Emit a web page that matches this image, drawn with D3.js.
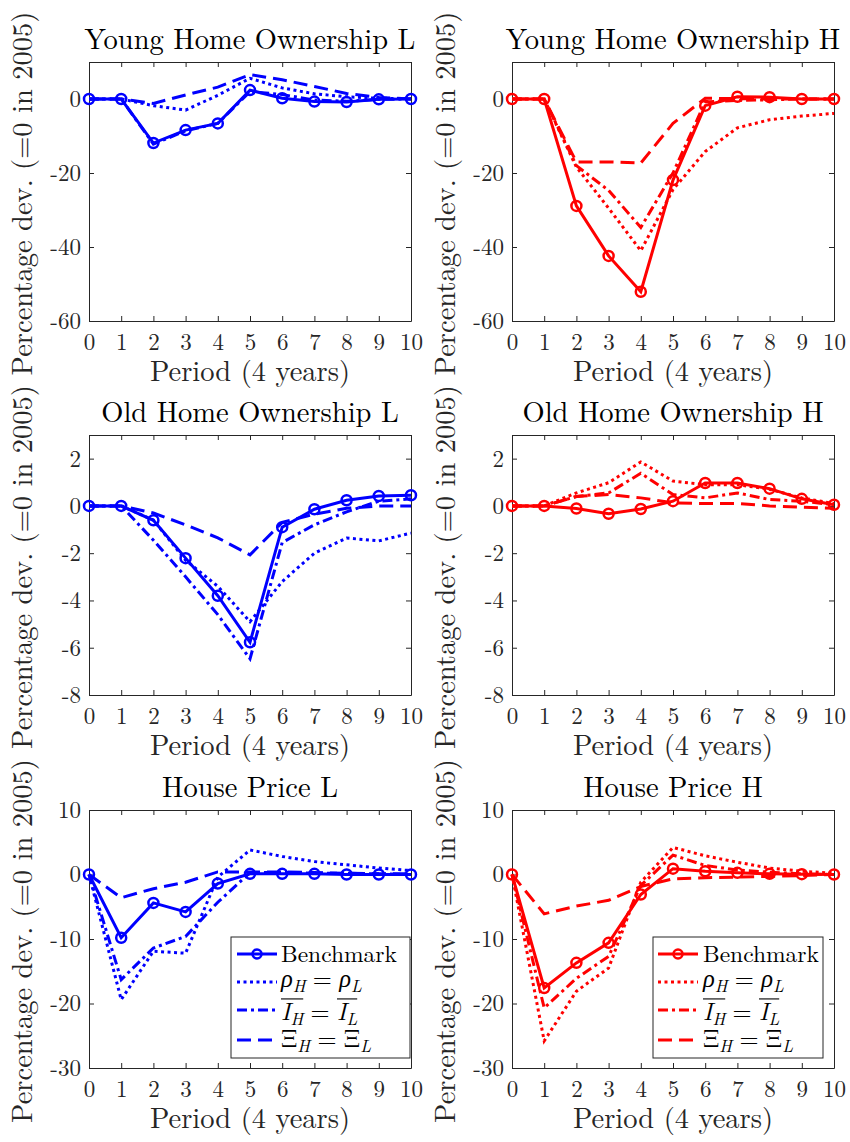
<!DOCTYPE html>
<html>
<head>
<meta charset="utf-8">
<script src="https://cdn.jsdelivr.net/npm/d3@7"></script>
<style>
  html, body { margin: 0; padding: 0; background: #fff; }
  svg { display: block; }
</style>
</head>
<body>
<svg id="fig" width="850" height="1142"></svg>
<script>
// ---- data: percentage deviation from 2005, by period (4 years) ----
const periods = [0, 1, 2, 3, 4, 5, 6, 7, 8, 9, 10];
const seriesNames = ["Benchmark", "rho", "income", "xi"];

const youngL_bench = [0, 0, -11.9, -8.4, -6.6, 2.4, 0.2, -0.7, -0.8, -0.1, 0];
const youngL_rho   = [0, 0, -1.8, -3.0, 1.0, 5.6, 3.0, 1.4, 0.6, 0.2, 0.1];
const youngL_inc   = [0, 0, -12.2, -8.6, -6.6, 2.0, 1.2, -0.3, -0.6, -0.1, 0];
const youngL_xi    = [0, 0, -1.2, 1.1, 3.2, 6.6, 5.2, 3.4, 1.5, 0.4, 0];

const youngH_bench = [0, 0, -28.9, -42.4, -52.1, -21.9, -1.8, 0.6, 0.5, 0, 0];
const youngH_rho   = [0, 0, -18.4, -29.5, -41.0, -24.5, -14.2, -7.8, -5.6, -4.6, -3.9];
const youngH_inc   = [0, 0, -18.0, -24.7, -34.7, -20.0, -0.8, -0.4, -0.2, 0, 0];
const youngH_xi    = [0, 0, -17.0, -17.0, -17.3, -6.6, 0.2, 0.1, 0, 0, 0];

const oldL_bench = [0, 0, -0.61, -2.21, -3.8, -5.77, -0.9, -0.14, 0.24, 0.42, 0.45];
const oldL_rho   = [0, 0, -0.6, -2.3, -3.4, -4.9, -3.2, -2.0, -1.36, -1.48, -1.15];
const oldL_inc   = [0, 0, -1.45, -3.0, -4.6, -6.47, -1.55, -0.8, -0.25, 0.2, 0.3];
const oldL_xi    = [0, 0, -0.3, -0.8, -1.35, -2.07, -0.7, -0.35, -0.1, 0.0, 0.0];

const oldH_bench = [0, 0, -0.11, -0.33, -0.13, 0.2, 0.97, 0.97, 0.73, 0.3, 0.05];
const oldH_rho   = [0, 0, 0.55, 0.98, 1.86, 1.05, 0.9, 0.9, 0.7, 0.34, 0.1];
const oldH_inc   = [0, 0, 0.4, 0.55, 1.38, 0.48, 0.34, 0.55, 0.27, 0.2, 0.05];
const oldH_xi    = [0, 0, 0.4, 0.48, 0.34, 0.13, 0.1, 0.1, 0.0, -0.05, -0.1];

const priceL_bench = [0, -9.8, -4.4, -5.8, -1.4, 0.1, 0.1, 0.1, 0, 0, 0];
const priceL_rho   = [0, -19.4, -11.9, -12.2, -0.4, 3.8, 2.8, 2.0, 1.5, 1.0, 0.6];
const priceL_inc   = [0, -16.3, -11.4, -9.6, -4.3, 0.3, 0.3, 0.2, 0.2, 0.1, 0];
const priceL_xi    = [0, -3.6, -2.2, -1.2, 0.4, 0.4, 0.4, 0.3, 0.2, 0.1, 0.1];

const priceH_bench = [0, -17.6, -13.7, -10.6, -3.1, 0.9, 0.5, 0.26, 0.1, 0.05, 0];
const priceH_rho   = [0, -25.8, -18.1, -14.5, -1.2, 4.2, 2.9, 1.9, 1.0, 0.5, 0.2];
const priceH_inc   = [0, -20.7, -16.1, -12.7, -1.7, 3.0, 1.4, 0.7, 0.36, 0.1, 0];
const priceH_xi    = [0, -6.1, -4.9, -4.0, -1.85, -0.67, -0.5, -0.4, -0.3, -0.15, 0];

const titles = ["Young Home Ownership L", "Young Home Ownership H",
                "Old Home Ownership L", "Old Home Ownership H",
                "House Price L", "House Price H"];
const xTicks = [0, 1, 2, 3, 4, 5, 6, 7, 8, 9, 10];
const yTicksYoung = [-60, -40, -20, 0];
const yTicksOld = [-8, -6, -4, -2, 0, 2];
const yTicksPrice = [-30, -20, -10, 0, 10];
const yDomainYoung = [-60, 10];
const yDomainOld = [-8, 3];
const yDomainPrice = [-30, 10];
const xLabel = "Period (4 years)";
const yLabel = "Percentage dev. (=0 in 2005)";

// ---- layout and style ----
const FONT = "Latin Modern Roman";
const AX = "#262626";
const colX = [89, 512];
const axW = 322;
const rowY = [62, 435, 810];
const axH = [259, 260, 258];

const styles = {
  Benchmark: { dash: null, marker: true },
  rho: { dash: "3,3.5", marker: false },
  income: { dash: "10,4,3,4", marker: false },
  xi: { dash: "14,7", marker: false }
};

const panels = [
  { title: titles[0], color: "#0000ff", dom: yDomainYoung, ticks: yTicksYoung, data: [youngL_bench, youngL_rho, youngL_inc, youngL_xi] },
  { title: titles[1], color: "#ff0000", dom: yDomainYoung, ticks: yTicksYoung, data: [youngH_bench, youngH_rho, youngH_inc, youngH_xi] },
  { title: titles[2], color: "#0000ff", dom: yDomainOld, ticks: yTicksOld, data: [oldL_bench, oldL_rho, oldL_inc, oldL_xi] },
  { title: titles[3], color: "#ff0000", dom: yDomainOld, ticks: yTicksOld, data: [oldH_bench, oldH_rho, oldH_inc, oldH_xi] },
  { title: titles[4], color: "#0000ff", dom: yDomainPrice, ticks: yTicksPrice, data: [priceL_bench, priceL_rho, priceL_inc, priceL_xi], legend: { x: 231, w: 179, lineX: 237, textX: 281 } },
  { title: titles[5], color: "#ff0000", dom: yDomainPrice, ticks: yTicksPrice, data: [priceH_bench, priceH_rho, priceH_inc, priceH_xi], legend: { x: 653, w: 170, lineX: 658, textX: 703 } }
];

const svg = d3.select("#fig");

// writes a run of text pieces (italic / subscript / relation spacing) left to right;
// draws overlines over grouped pieces
function mathText(g, x, y, parts, size, color) {
  let cx = x;
  const overs = {};
  parts.forEach(p => {
    const fs = p.sub ? size * 0.7 : size;
    cx += (p.gl || 0) * size;
    const t = g.append("text")
      .attr("x", cx).attr("y", y + (p.sub ? size * 0.2 : 0))
      .attr("font-family", FONT).attr("font-size", fs)
      .attr("font-style", p.it ? "italic" : "normal")
      .attr("fill", color)
      .text(p.t);
    const w = t.node().getComputedTextLength();
    if (p.over !== undefined) {
      if (!overs[p.over]) overs[p.over] = [cx, cx + w];
      else overs[p.over][1] = cx + w;
    }
    cx += w + (p.gr || 0) * size;
  });
  Object.values(overs).forEach(([a, b]) => {
    g.append("line").attr("x1", a).attr("x2", b)
      .attr("y1", y - size * 0.86).attr("y2", y - size * 0.86)
      .attr("stroke", color).attr("stroke-width", 1.1);
  });
  return cx;
}

panels.forEach((p, i) => {
  const col = i % 2, row = Math.floor(i / 2);
  const x0 = colX[col], y0 = rowY[row], h = axH[row];
  const x = d3.scaleLinear().domain([0, 10]).range([x0, x0 + axW]);
  const y = d3.scaleLinear().domain(p.dom).range([y0 + h, y0]);
  const g = svg.append("g");

  // axes box with inward ticks on all four sides
  const axB = d3.axisBottom(x).tickValues(xTicks).tickSizeInner(-5).tickSizeOuter(0).tickPadding(13).tickFormat(d3.format("d"));
  const axT = d3.axisTop(x).tickValues(xTicks).tickSizeInner(-5).tickSizeOuter(0).tickFormat("");
  const axL = d3.axisLeft(y).tickValues(p.ticks).tickSizeInner(-5).tickSizeOuter(0).tickPadding(8).tickFormat(d => String(d));
  const axR = d3.axisRight(y).tickValues(p.ticks).tickSizeInner(-5).tickSizeOuter(0).tickFormat("");

  [[axB, `translate(0,${y0 + h})`], [axT, `translate(0,${y0})`],
   [axL, `translate(${x0},0)`], [axR, `translate(${x0 + axW},0)`]].forEach(([a, tr]) => {
    const ag = g.append("g").attr("transform", tr).call(a);
    ag.attr("font-family", FONT);
    ag.select(".domain").attr("stroke", AX).attr("stroke-width", 1);
    ag.selectAll(".tick line").attr("stroke", AX).attr("stroke-width", 1);
    ag.selectAll(".tick text").attr("font-family", FONT).attr("font-size", 23).attr("fill", AX);
  });

  // series lines, drawn in legend order
  const line = d3.line().x((d, k) => x(periods[k])).y(d => y(d));
  const plot = g.append("g");
  p.data.forEach((vals, s) => {
    const st = styles[seriesNames[s]];
    plot.append("path").attr("d", line(vals))
      .attr("fill", "none").attr("stroke", p.color).attr("stroke-width", 3)
      .attr("stroke-linejoin", "miter").attr("stroke-dasharray", st.dash);
    if (st.marker) {
      plot.selectAll(null).data(vals).enter().append("circle")
        .attr("cx", (d, k) => x(periods[k])).attr("cy", d => y(d)).attr("r", 5)
        .attr("fill", "none").attr("stroke", p.color).attr("stroke-width", 2.5);
    }
  });

  // title and axis labels
  svg.append("text").attr("x", x0 + axW / 2).attr("y", y0 - 13)
    .attr("text-anchor", "middle").attr("font-family", FONT).attr("font-size", 28.5).attr("fill", "#000")
    .text(p.title);
  svg.append("text").attr("x", x0 + axW / 2).attr("y", y0 + h + 60)
    .attr("text-anchor", "middle").attr("font-family", FONT).attr("font-size", 28.5).attr("fill", AX)
    .text(xLabel);
  svg.append("text")
    .attr("transform", `translate(${x0 - 57},${y0 + h / 2 + 2}) rotate(-90)`)
    .attr("text-anchor", "middle").attr("font-family", FONT).attr("font-size", 28.5).attr("fill", AX)
    .text(yLabel);

  // legend (bottom row only)
  if (p.legend) {
    const L = p.legend;
    const lg = svg.append("g");
    lg.append("rect").attr("x", L.x).attr("y", 937).attr("width", L.w).attr("height", 121)
      .attr("fill", "#fff").attr("stroke", AX).attr("stroke-width", 1);
    const rowsY = [954, 982, 1010, 1040];
    const baseY = [962, 987, 1020, 1047];
    seriesNames.forEach((name, s) => {
      const st = styles[name];
      lg.append("line").attr("x1", L.lineX).attr("x2", L.lineX + 40)
        .attr("y1", rowsY[s]).attr("y2", rowsY[s])
        .attr("stroke", p.color).attr("stroke-width", 3).attr("stroke-dasharray", st.dash);
      if (st.marker) {
        lg.append("circle").attr("cx", L.lineX + 20).attr("cy", rowsY[s]).attr("r", 4.5)
          .attr("fill", "none").attr("stroke", p.color).attr("stroke-width", 2.5);
      }
    });
    const fs = 24.5;
    const eq = { t: "=", gl: 0.3, gr: 0.3 };
    mathText(lg, L.textX, baseY[0], [{ t: "Benchmark" }], 23.5, "#000");
    mathText(lg, L.textX, baseY[1], [
      { t: "\u03C1", it: true }, { t: "H", it: true, sub: true }, eq,
      { t: "\u03C1", it: true }, { t: "L", it: true, sub: true }], fs, "#000");
    mathText(lg, L.textX, baseY[2], [
      { t: "I", it: true, over: 0 }, { t: "H", it: true, sub: true, over: 0 }, eq,
      { t: "I", it: true, over: 1 }, { t: "L", it: true, sub: true, over: 1 }], fs, "#000");
    mathText(lg, L.textX, baseY[3], [
      { t: "\u039E" }, { t: "H", it: true, sub: true }, eq,
      { t: "\u039E" }, { t: "L", it: true, sub: true }], fs, "#000");
  }
});
</script>
</body>
</html>
